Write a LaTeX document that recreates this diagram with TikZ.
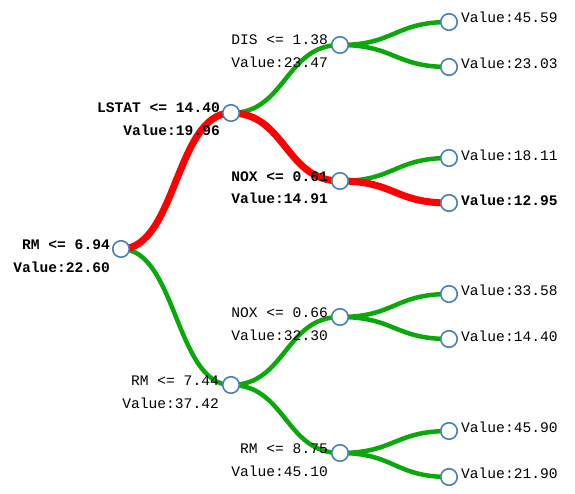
\documentclass[tikz,border=0pt]{standalone}
\usepackage{fontspec}
\setmonofont{Liberation Mono}
\definecolor{edgegreen}{RGB}{10,168,10}
\definecolor{edgered}{RGB}{255,0,0}
\definecolor{nodeblue}{RGB}{70,130,180}
\begin{document}
\begin{tikzpicture}[x=1pt,y=-1pt,
  treenode/.style={circle,draw=nodeblue,fill=white,line width=1.6pt,minimum size=16.5pt,inner sep=0pt},
  lbl/.style={font=\fontsize{14.6}{16}\selectfont\ttfamily,inner sep=0pt,anchor=east},
  leaflbl/.style={font=\fontsize{14.6}{16}\selectfont\ttfamily,inner sep=0pt,anchor=west},
  good/.style={draw=edgegreen,line width=4.5pt},
  bad/.style={draw=edgered,line width=7pt}]
\useasboundingbox (0,0) rectangle (575,494);
% node positions
\coordinate (r) at (121,249);
\coordinate (a) at (231,113);
\coordinate (b) at (231,385);
\coordinate (aa) at (340,45);
\coordinate (ab) at (340,181);
\coordinate (ba) at (340,317);
\coordinate (bb) at (340,453);
\coordinate (l1) at (449,22);
\coordinate (l2) at (449,67);
\coordinate (l3) at (449,158);
\coordinate (l4) at (449,203);
\coordinate (l5) at (449,294);
\coordinate (l6) at (449,339);
\coordinate (l7) at (449,431);
\coordinate (l8) at (449,477);
% edges
\draw[good] (r) .. controls (176,249) and (176,385) .. (b);
\draw[good] (a) .. controls (285.5,113) and (285.5,45) .. (aa);
\draw[good] (b) .. controls (285.5,385) and (285.5,317) .. (ba);
\draw[good] (b) .. controls (285.5,385) and (285.5,453) .. (bb);
\draw[good] (aa) .. controls (394.5,45) and (394.5,22) .. (l1);
\draw[good] (aa) .. controls (394.5,45) and (394.5,67) .. (l2);
\draw[good] (ab) .. controls (394.5,181) and (394.5,158) .. (l3);
\draw[good] (ba) .. controls (394.5,317) and (394.5,294) .. (l5);
\draw[good] (ba) .. controls (394.5,317) and (394.5,339) .. (l6);
\draw[good] (bb) .. controls (394.5,453) and (394.5,431) .. (l7);
\draw[good] (bb) .. controls (394.5,453) and (394.5,477) .. (l8);
\draw[bad] (r) .. controls (176,249) and (176,113) .. (a);
\draw[bad] (a) .. controls (285.5,113) and (285.5,181) .. (ab);
\draw[bad] (ab) .. controls (394.5,181) and (394.5,203) .. (l4);
% circles
\foreach \n in {r,a,b,aa,ab,ba,bb,l1,l2,l3,l4,l5,l6,l7,l8}
  \node[treenode] (c\n) at (\n) {};
% labels of inner nodes
\node[lbl] (tr1) at (110,245) {\bfseries RM <= 6.94};
\node[lbl] (tr2) at (110,267) {\bfseries Value:22.60};
\node[lbl] (ta1) at (220,108) {\bfseries LSTAT <= 14.40};
\node[lbl] (ta2) at (220,130) {\bfseries Value:19.96};
\node[lbl] (tb1) at (219,381) {RM <= 7.44};
\node[lbl] (tb2) at (219,403) {Value:37.42};
\node[lbl] (taa1) at (328,40) {DIS <= 1.38};
\node[lbl] (taa2) at (328,62) {Value:23.47};
\node[lbl] (tab1) at (328,177) {\bfseries NOX <= 0.61};
\node[lbl] (tab2) at (328,198) {\bfseries Value:14.91};
\node[lbl] (tba1) at (328,313) {NOX <= 0.66};
\node[lbl] (tba2) at (328,335) {Value:32.30};
\node[lbl] (tbb1) at (328,449) {RM <= 8.75};
\node[lbl] (tbb2) at (328,471) {Value:45.10};
% leaf labels
\node[leaflbl] (t1) at (461,17) {Value:45.59};
\node[leaflbl] (t2) at (461,63) {Value:23.03};
\node[leaflbl] (t3) at (461,155) {Value:18.11};
\node[leaflbl] (t4) at (461,200) {\bfseries Value:12.95};
\node[leaflbl] (t5) at (461,290) {Value:33.58};
\node[leaflbl] (t6) at (461,336) {Value:14.40};
\node[leaflbl] (t7) at (461,427) {Value:45.90};
\node[leaflbl] (t8) at (461,473) {Value:21.90};
\end{tikzpicture}
\end{document}
